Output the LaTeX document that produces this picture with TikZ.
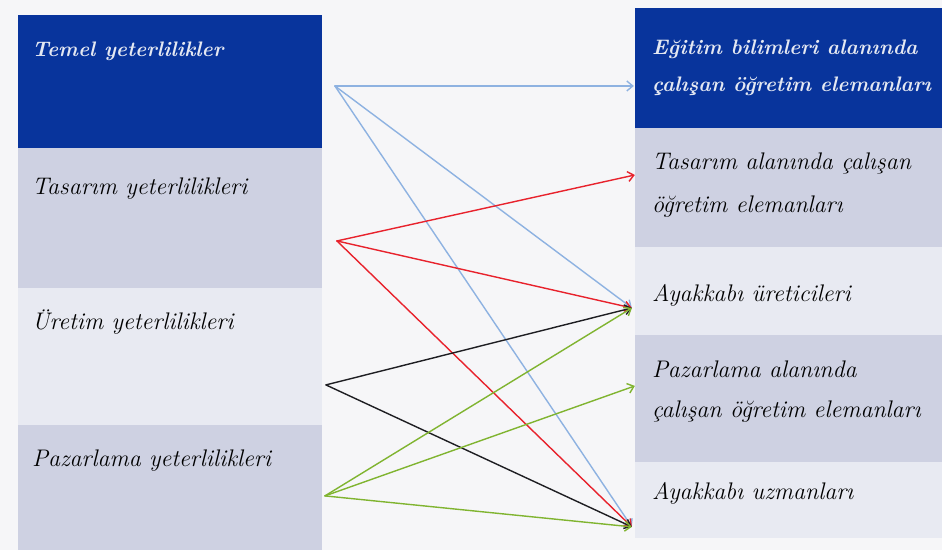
\documentclass[tikz,border=0pt]{standalone}
\usepackage{fontspec}
\usetikzlibrary{arrows.meta}

\definecolor{darkbox}{RGB}{8,52,156}
\definecolor{midbox}{RGB}{206,209,226}
\definecolor{lightbox}{RGB}{232,234,242}
\definecolor{paper}{RGB}{246,246,248}
\definecolor{hdrtext}{RGB}{228,232,242}
\definecolor{bluearr}{RGB}{142,178,225}
\definecolor{redarr}{RGB}{232,34,44}
\definecolor{greenarr}{RGB}{128,180,48}
\definecolor{blackarr}{RGB}{30,30,34}

\begin{document}
\begin{tikzpicture}[x=1pt,y=-1pt,line cap=round,line join=round,>={Straight Barb[length=6pt,width=10pt]}]
\tikzstyle{box}=[inner sep=0pt, anchor=north west, draw=none]
\tikzstyle{lbl}=[inner sep=0pt, anchor=base west, font=\fontsize{24}{28}\selectfont\itshape]
\tikzstyle{hdr}=[lbl, text=hdrtext, font=\fontsize{21}{26}\selectfont\itshape\bfseries]
\tikzstyle{link}=[->, line width=1.4pt]
\fill [paper] (0,0) rectangle (942,550);
%left column
\node [box, fill=darkbox, minimum width=304pt, minimum height=133pt] (temel) at (18,15) {};
\node [box, fill=midbox, minimum width=304pt, minimum height=140pt] (tas) at (18,148) {};
\node [box, fill=lightbox, minimum width=304pt, minimum height=137pt] (ure) at (18,288) {};
\node [box, fill=midbox, minimum width=304pt, minimum height=125pt] (paz) at (18,425) {};
\node [hdr] (temel-t) at (32,57) {Temel yeterlilikler};
\node [lbl] (tas-t) at (32,195) {Tasarım yeterlilikleri};
\node [lbl] (ure-t) at (32,330) {Üretim yeterlilikleri};
\node [lbl] (paz-t) at (32,467) {Pazarlama yeterlilikleri};
%right column
\node [box, fill=darkbox, minimum width=307pt, minimum height=120pt] (egit) at (635,8) {};
\node [box, fill=midbox, minimum width=307pt, minimum height=119pt] (rtas) at (635,128) {};
\node [box, fill=lightbox, minimum width=307pt, minimum height=88pt] (ayu) at (635,247) {};
\node [box, fill=midbox, minimum width=307pt, minimum height=127pt] (rpaz) at (635,335) {};
\node [box, fill=lightbox, minimum width=307pt, minimum height=76pt] (ayz) at (635,462) {};
\node [hdr] (egit-t1) at (652,55) {Eğitim bilimleri alanında};
\node [hdr] (egit-t2) at (652,92) {çalışan öğretim elemanları};
\node [lbl] (rtas-t1) at (652,170) {Tasarım alanında çalışan};
\node [lbl] (rtas-t2) at (652,213) {öğretim elemanları};
\node [lbl] (ayu-t) at (652,302) {Ayakkabı üreticileri};
\node [lbl] (rpaz-t1) at (652,378) {Pazarlama alanında};
\node [lbl] (rpaz-t2) at (652,418) {çalışan öğretim elemanları};
\node [lbl] (ayz-t) at (652,500) {Ayakkabı uzmanları};
%arrow ends
\coordinate (s-tem) at (335,86);
\coordinate (s-tas) at (337,241);
\coordinate (s-ure) at (326,385);
\coordinate (s-paz) at (325,496);
\coordinate (e-egit) at (634,86);
\coordinate (e-tas) at (635,175);
\coordinate (e-ayu) at (632,308);
\coordinate (e-paz) at (635,386);
\coordinate (e-ayz) at (632,527);
%temel
\draw [link, bluearr] (s-tem)-- (e-egit);
\draw [link, bluearr] (s-tem)-- (e-ayu);
\draw [link, bluearr] (s-tem)-- (e-ayz);
%tasarim
\draw [link, redarr] (s-tas)-- (e-tas);
\draw [link, redarr] (s-tas)-- (e-ayu);
\draw [link, redarr] (s-tas)-- (e-ayz);
%uretim
\draw [link, blackarr] (s-ure)-- (e-ayu);
\draw [link, blackarr] (s-ure)-- (e-ayz);
%pazarlama
\draw [link, greenarr] (s-paz)-- (e-ayu);
\draw [link, greenarr] (s-paz)-- (e-paz);
\draw [link, greenarr] (s-paz)-- (e-ayz);
\end{tikzpicture}
\end{document}
